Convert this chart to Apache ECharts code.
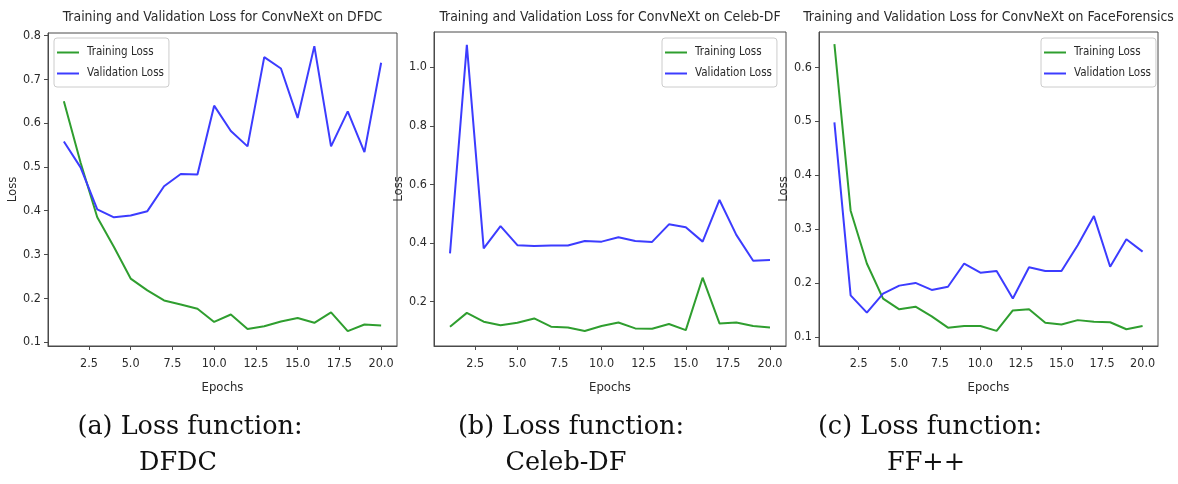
<!DOCTYPE html>
<html>
<head>
<meta charset="utf-8">
<script src="https://cdn.jsdelivr.net/npm/echarts@6/dist/echarts.min.js"></script>
<style>
html,body{margin:0;padding:0;background:#fff;}
#chart{width:1178px;height:484px;}
</style>
</head>
<body>
<div id="chart"></div>
<script>
// ---- data ----
const epochs = [1,2,3,4,5,6,7,8,9,10,11,12,13,14,15,16,17,18,19,20];
const xTicks = [2.5,5,7.5,10,12.5,15,17.5,20];

const dfdcTrain = [0.650,0.510,0.385,0.317,0.245,0.218,0.195,0.186,0.176,0.146,0.163,0.130,0.136,0.147,0.155,0.144,0.168,0.125,0.140,0.138];
const dfdcVal   = [0.558,0.499,0.403,0.385,0.389,0.399,0.456,0.484,0.483,0.640,0.582,0.547,0.751,0.725,0.612,0.776,0.547,0.627,0.534,0.738];

const celebTrain = [0.115,0.162,0.132,0.120,0.128,0.143,0.115,0.112,0.100,0.117,0.129,0.109,0.108,0.124,0.103,0.282,0.126,0.129,0.117,0.112];
const celebVal   = [0.365,1.076,0.382,0.458,0.393,0.390,0.392,0.392,0.407,0.405,0.420,0.407,0.404,0.464,0.454,0.405,0.547,0.428,0.340,0.342];

const ffTrain = [0.643,0.334,0.236,0.171,0.151,0.156,0.138,0.117,0.120,0.120,0.111,0.149,0.151,0.126,0.123,0.131,0.128,0.127,0.114,0.120];
const ffVal   = [0.498,0.177,0.145,0.180,0.195,0.200,0.187,0.193,0.236,0.219,0.222,0.171,0.229,0.222,0.222,0.270,0.324,0.230,0.281,0.258];

const yTicks1 = [0.1,0.2,0.3,0.4,0.5,0.6,0.7,0.8];
const yTicks2 = [0.2,0.4,0.6,0.8,1.0];
const yTicks3 = [0.1,0.2,0.3,0.4,0.5,0.6];

const titles = [
  'Training and Validation Loss for ConvNeXt on DFDC',
  'Training and Validation Loss for ConvNeXt on Celeb-DF',
  'Training and Validation Loss for ConvNeXt on FaceForensics'
];
const captionLine1 = ['(a) Loss function:', '(b) Loss function:', '(c) Loss function:'];
const captionLine2 = ['DFDC', 'Celeb-DF', 'FF++'];
const seriesNames = ['Training Loss', 'Validation Loss'];

// ---- layout / style ----
const FONT = "'DejaVu Sans Condensed','DejaVu Sans',sans-serif";
const SERIF = "'DejaVu Serif','Liberation Serif',serif";
const GREEN = '#2f9e2f';
const BLUE = '#3c3cff';
const AX = '#4a4a4a';
const TXT = '#2a2a2a';

const grids = [
  {left: 48, top: 33, width: 349, height: 313},
  {left: 434, top: 32, width: 352, height: 314},
  {left: 819, top: 32, width: 339, height: 314}
];
const yRanges = [[0.091, 0.806], [0.049, 1.12], [0.083, 0.6655]];
const yTickSets = [yTicks1, yTicks2, yTicks3];
const trainSets = [dfdcTrain, celebTrain, ffTrain];
const valSets = [dfdcVal, celebVal, ffVal];
const legendPos = [{left: 54, top: 38}, {left: 662, top: 38}, {left: 1041, top: 38}];
const lossNameGap = [27, 24, 23];
const captionX1 = [190, 571, 930];
const captionX2 = [178, 566, 926];

const chart = echarts.init(document.getElementById('chart'), null, {renderer: 'canvas'});

const option = {
  backgroundColor: '#fff',
  animation: false,
  grid: grids.map(g => Object.assign({show: true, borderColor: AX, borderWidth: 1, containLabel: false}, g)),
  xAxis: grids.map((g, i) => ({
    type: 'value', gridIndex: i, min: 0.05, max: 20.95,
    name: 'Epochs', nameLocation: 'middle', nameGap: 35,
    nameTextStyle: {fontFamily: FONT, fontSize: 13, color: TXT},
    axisLine: {show: true, lineStyle: {color: AX}},
    axisTick: {show: true, length: 4, customValues: xTicks, lineStyle: {color: AX}},
    axisLabel: {customValues: xTicks, margin: 11, fontFamily: FONT, fontSize: 12.5, color: TXT,
      formatter: v => v.toFixed(1)},
    splitLine: {show: false}
  })),
  yAxis: grids.map((g, i) => ({
    type: 'value', gridIndex: i, min: yRanges[i][0], max: yRanges[i][1],
    name: 'Loss', nameLocation: 'middle', nameGap: lossNameGap[i],
    nameTextStyle: {fontFamily: FONT, fontSize: 13, color: TXT},
    axisLine: {show: true, lineStyle: {color: AX}},
    axisTick: {show: true, length: 4, customValues: yTickSets[i], lineStyle: {color: AX}},
    axisLabel: {customValues: yTickSets[i], margin: 7, fontFamily: FONT, fontSize: 12.5, color: TXT,
      formatter: v => v.toFixed(1)},
    splitLine: {show: false}
  })),
  legend: legendPos.map(p => ({
    left: p.left, top: p.top, orient: 'vertical',
    data: seriesNames,
    icon: 'rect',
    itemWidth: 22, itemHeight: 2, itemGap: 8,
    padding: [8, 5, 7, 3],
    borderColor: '#cccccc', borderWidth: 1, borderRadius: 3,
    backgroundColor: 'rgba(255,255,255,0.8)',
    textStyle: {fontFamily: FONT, fontSize: 11.5, lineHeight: 13, color: TXT, padding: [0, 0, 0, 3]},
    selectedMode: false
  })),
  series: [],
  graphic: []
};

for (let i = 0; i < 3; i++) {
  option.series.push({
    name: seriesNames[0], type: 'line', xAxisIndex: i, yAxisIndex: i,
    data: epochs.map((e, k) => [e, trainSets[i][k]]),
    symbol: 'none', lineStyle: {color: GREEN, width: 2}, itemStyle: {color: GREEN}, z: 3
  });
  option.series.push({
    name: seriesNames[1], type: 'line', xAxisIndex: i, yAxisIndex: i,
    data: epochs.map((e, k) => [e, valSets[i][k]]),
    symbol: 'none', lineStyle: {color: BLUE, width: 2}, itemStyle: {color: BLUE}, z: 3
  });
  const g = grids[i];
  option.graphic.push({
    type: 'text', x: g.left + g.width / 2, y: 17,
    style: {text: titles[i], font: "13.9px " + FONT, fill: TXT, textAlign: 'center', textVerticalAlign: 'middle'}
  });
  option.graphic.push({
    type: 'text', x: captionX1[i], y: 427,
    style: {text: captionLine1[i], font: "25.5px " + SERIF, fill: '#111', textAlign: 'center', textVerticalAlign: 'middle'}
  });
  option.graphic.push({
    type: 'text', x: captionX2[i], y: 463,
    style: {text: captionLine2[i], font: "25.5px " + SERIF, fill: '#111', textAlign: 'center', textVerticalAlign: 'middle'}
  });
}

chart.setOption(option);
</script>
</body>
</html>
